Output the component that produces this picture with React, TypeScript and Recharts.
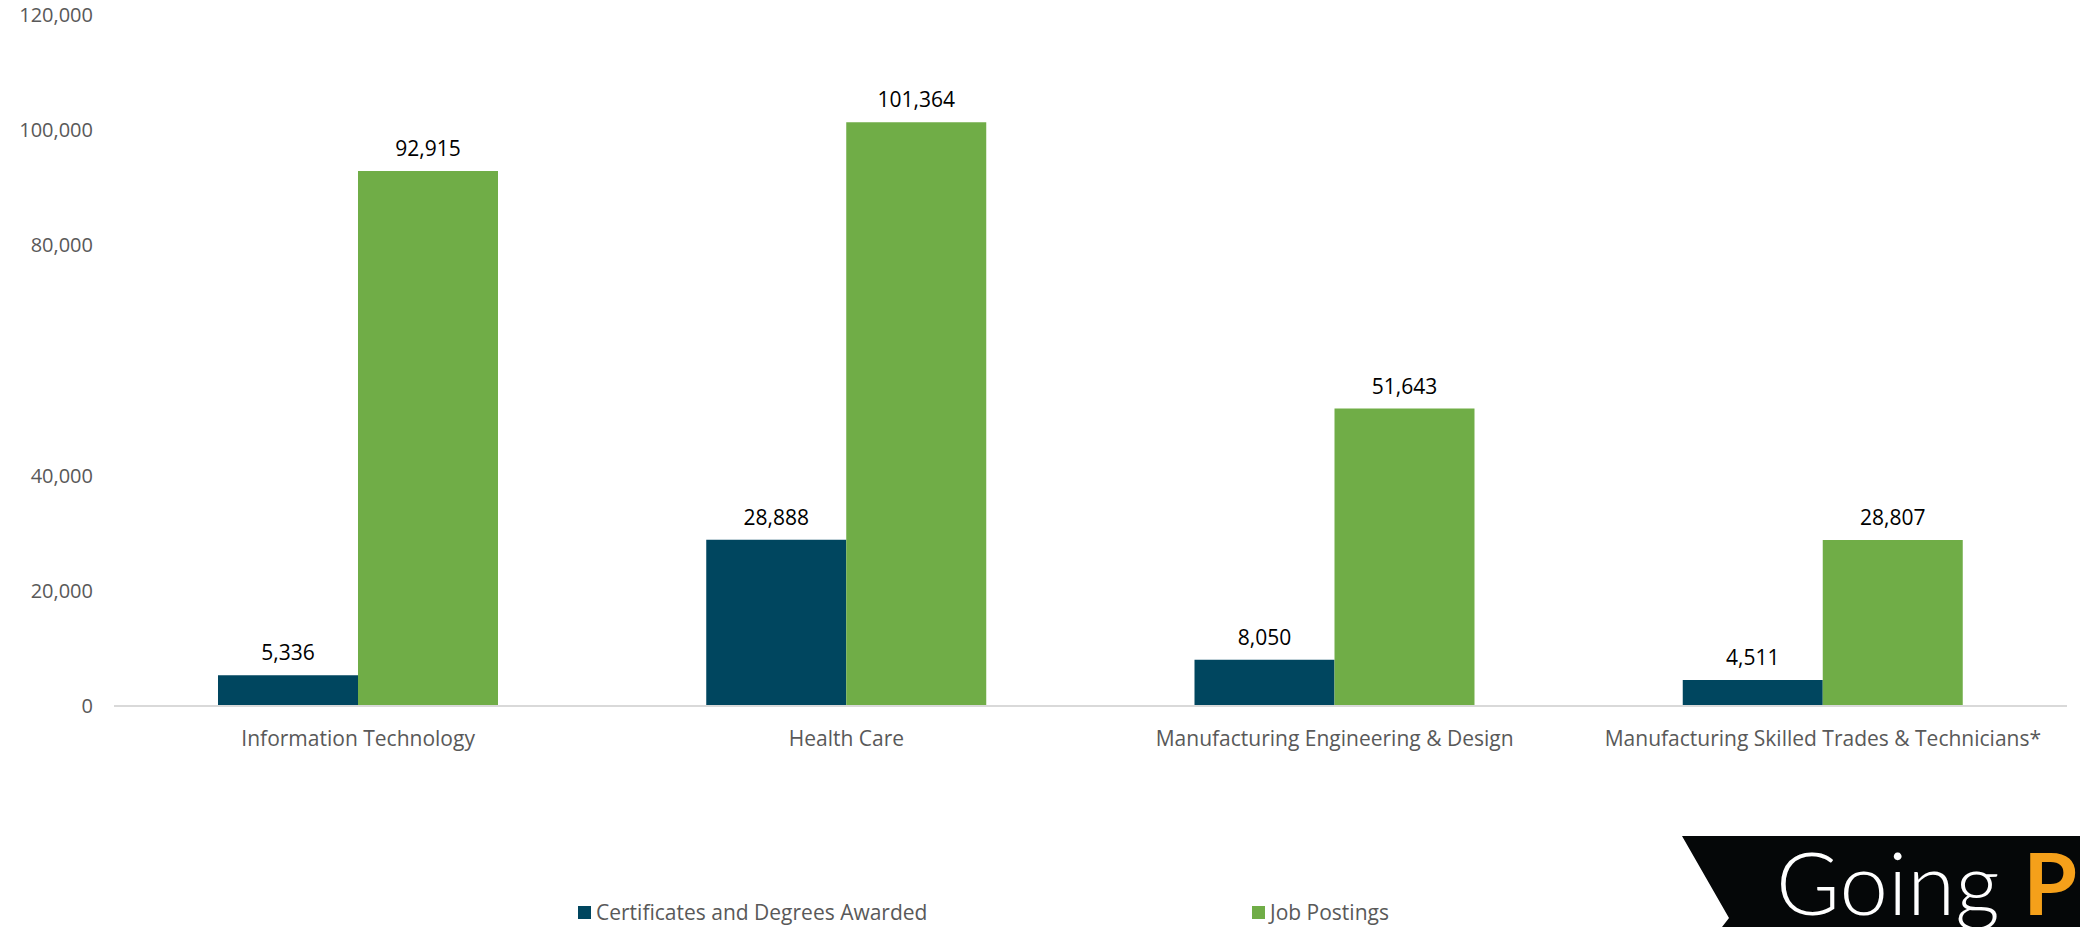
import { BarChart, Bar, XAxis, YAxis, Legend, LabelList } from 'recharts';

const categories = [
  'Information Technology',
  'Health Care',
  'Manufacturing Engineering & Design',
  'Manufacturing Skilled Trades & Technicians*',
];
const certificates = [5336, 28888, 8050, 4511];
const jobPostings = [92915, 101364, 51643, 28807];
const yTicks = [0, 20000, 40000, 80000, 100000, 120000];

const data = categories.map((name, i) => ({
  name,
  certificates: certificates[i],
  jobs: jobPostings[i],
}));

const FONT = '"Open Sans", sans-serif';
const BLUE = '#00465F';
const GREEN = '#70AD47';
const LEGEND_X = [578, 1252];

const fmt = (v: number) => v.toLocaleString('en-US');

const renderLabel = (props: any) => {
  const { x, y, width, value } = props;
  return (
    <text
      x={x + width / 2}
      y={y - 23}
      textAnchor="middle"
      dominantBaseline="central"
      fontSize={21}
      fill="#000"
      fontFamily={FONT}
    >
      {fmt(value)}
    </text>
  );
};

const renderLegend = (props: any) => {
  const items = props.payload || [];
  return (
    <div style={{ position: 'relative', width: 2080, height: 30, fontFamily: FONT }}>
      {items.map((it: any, i: number) => (
        <div
          key={it.value}
          style={{
            position: 'absolute',
            left: LEGEND_X[i],
            top: 0,
            height: 30,
            display: 'flex',
            alignItems: 'center',
            fontSize: 21,
            color: '#595959',
            whiteSpace: 'nowrap',
          }}
        >
          <span style={{ width: 13, height: 13, background: it.color, marginRight: 5, display: 'inline-block' }} />
          {it.value}
        </div>
      ))}
    </div>
  );
};

// brand badge in the bottom-right corner, cut off by the frame like the original
const Logo = () => (
  <svg width={2080} height={927} style={{ position: 'absolute', left: 0, top: 0, pointerEvents: 'none' }}>
    <polygon points="1682,836 2080,836 2080,927 1722,927 1729,918" fill="#050708" />
    <text x={1776} y={915} fontFamily="Lato, sans-serif" fontWeight={300} fontSize={87} fill="#fff">
      Going <tspan fill="#F5A01A" fontWeight={700}>P</tspan>
    </text>
  </svg>
);

export default function App() {
  return (
    <div style={{ position: 'relative', width: 2080, height: 927, overflow: 'hidden', background: '#fff' }}>
      <style>{`body{margin:0}`}</style>
      <BarChart
        width={2080}
        height={927}
        data={data}
        margin={{ top: 15, right: 13, left: 0, bottom: 131 }}
        barCategoryGap="21.3%"
        barGap={0}
        style={{ fontFamily: FONT }}
      >
        <XAxis
          dataKey="name"
          height={60}
          axisLine={{ stroke: '#d9d9d9', strokeWidth: 2 }}
          tickLine={false}
          tickSize={0}
          tickMargin={25}
          interval={0}
          tick={{ fill: '#595959', fontSize: 21, fontFamily: FONT }}
        />
        <YAxis
          width={114}
          domain={[0, 120000]}
          ticks={yTicks}
          axisLine={false}
          tickLine={false}
          tickSize={0}
          tickMargin={21}
          tickFormatter={fmt}
          tick={{ fill: '#595959', fontSize: 20, fontFamily: FONT }}
        />
        <Legend
          verticalAlign="bottom"
          content={renderLegend}
          wrapperStyle={{ left: 0, bottom: 0, width: 2080 }}
        />
        <Bar dataKey="certificates" name="Certificates and Degrees Awarded" fill={BLUE} isAnimationActive={false}>
          <LabelList dataKey="certificates" content={renderLabel} />
        </Bar>
        <Bar dataKey="jobs" name="Job Postings" fill={GREEN} isAnimationActive={false}>
          <LabelList dataKey="jobs" content={renderLabel} />
        </Bar>
      </BarChart>
      <Logo />
    </div>
  );
}
